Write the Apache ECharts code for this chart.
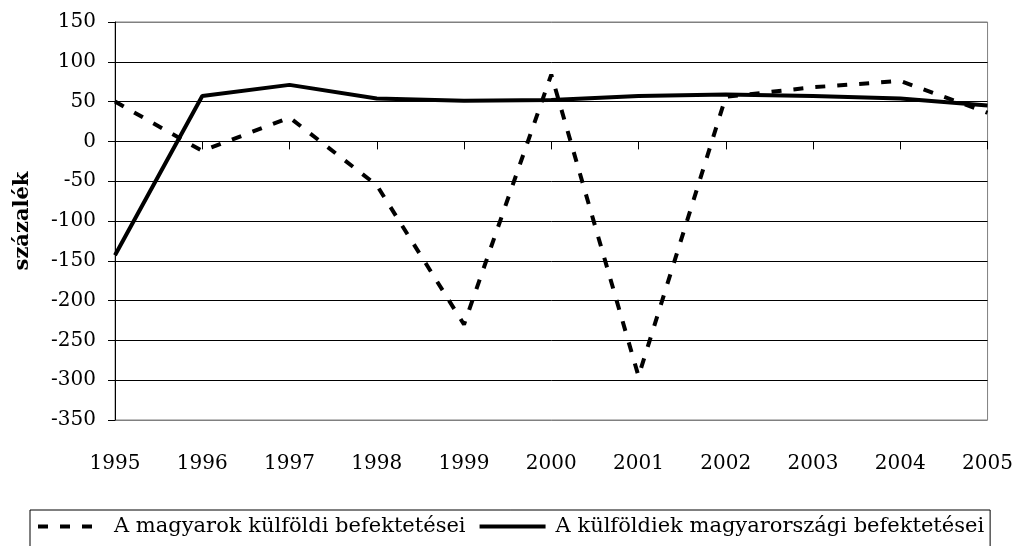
<!DOCTYPE html>
<html><head><meta charset="utf-8">
<script src="https://cdn.jsdelivr.net/npm/echarts@6/dist/echarts.min.js"></script>
<style>html,body{margin:0;padding:0;background:#fff}#c{width:1016px;height:546px}</style>
</head><body><div id="c"></div>
<script>
const years = ['1995','1996','1997','1998','1999','2000','2001','2002','2003','2004','2005'];
const magyarokKulfoldi = [50, -12, 30, -55, -230, 84, -295, 56, 68, 76, 36];
const kulfoldiekMagyar = [-143, 57, 71, 54, 51, 52, 57, 59, 57, 54, 45];
const seriesNames = ['A magyarok külföldi befektetései', 'A külföldiek magyarországi befektetései'];
const yTitle = 'százalék';

const font = 'DejaVu Serif';
const chart = echarts.init(document.getElementById('c'));
const splitColors = ['#808080','#000','#000','#000','#000','#000','#000','#000','#000','#000','#808080'];
chart.setOption({
  animation: false,
  textStyle: {fontFamily: font, color: '#000'},
  grid: {left: 115, right: 27, top: 22, bottom: 126, show: true, borderColor: '#808080', borderWidth: 1},
  legend: {
    left: 30, top: 510, width: 1000,
    borderColor: '#000', borderWidth: 1, padding: [6, 6, 12, 6],
    itemWidth: 66, itemHeight: 10, itemGap: 12,
    itemStyle: {color: 'transparent', borderWidth: 0, opacity: 0},
    lineStyle: {width: 4},
    textStyle: {fontFamily: font, fontSize: 21, color: '#000', padding: [0, 0, 0, 5]},
    data: seriesNames
  },
  xAxis: [{
    type: 'category', data: years, boundaryGap: false,
    axisLine: {onZero: true, lineStyle: {color: '#000', width: 1}},
    axisTick: {show: true, length: 8, lineStyle: {color: '#000'}},
    axisLabel: {show: false}, splitLine: {show: false}
  }, {
    type: 'category', data: years, boundaryGap: false, position: 'bottom',
    axisLine: {show: false, onZero: false}, axisTick: {show: false},
    axisLabel: {show: true, margin: 34, fontSize: 20, fontFamily: font, color: '#000'}
  }],
  yAxis: {
    type: 'value', min: -350, max: 150, interval: 50,
    name: yTitle, nameLocation: 'middle', nameGap: 82,
    nameTextStyle: {fontFamily: font, fontSize: 21, fontWeight: 'bold', color: '#000'},
    axisLine: {show: true, lineStyle: {color: '#000'}},
    axisTick: {show: true, length: 7, lineStyle: {color: '#000'}},
    axisLabel: {margin: 19, fontSize: 20, fontFamily: font, color: '#000'},
    splitLine: {show: true, lineStyle: {color: splitColors, width: 1}}
  },
  series: [{
    name: seriesNames[0], type: 'line', data: magyarokKulfoldi, xAxisIndex: 0,
    symbol: 'none', lineStyle: {color: '#000', width: 4, type: [10, 12]}, itemStyle: {color: '#000'}, z: 3
  }, {
    name: seriesNames[1], type: 'line', data: kulfoldiekMagyar, xAxisIndex: 0,
    symbol: 'none', lineStyle: {color: '#000', width: 4, type: 'solid'}, itemStyle: {color: '#000'}, z: 4
  }]
});
</script></body></html>
